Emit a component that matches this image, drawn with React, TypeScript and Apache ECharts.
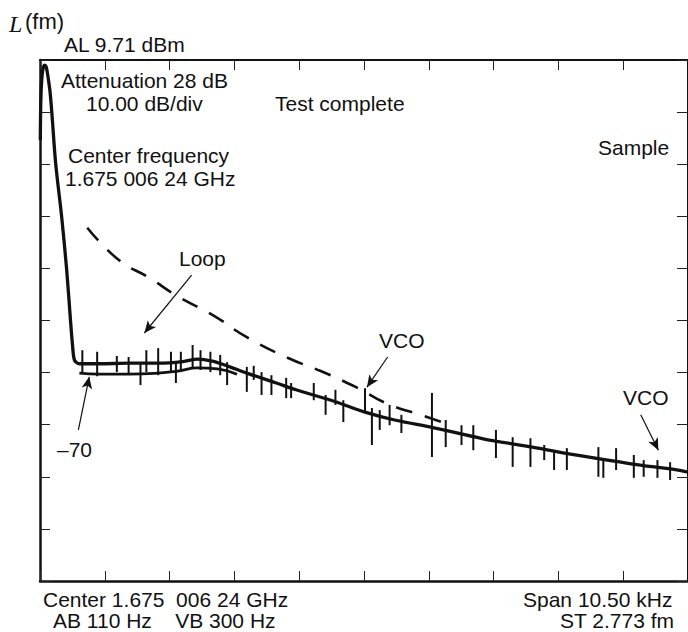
import React, { useEffect, useRef } from "react";
import * as echarts from "echarts";

// Frequency offset from left edge of screen (kHz), span 10.50 kHz over 10 div
const mainF = [0.005, 0.016, 0.040, 0.072, 0.096, 0.112, 0.160, 0.191, 0.255, 0.351, 0.431, 0.495, 0.527, 0.559, 0.638, 0.957, 1.436, 1.915, 2.314, 2.553, 2.793, 3.032, 3.351, 3.830, 4.149, 4.787, 5.266, 5.745, 6.383, 7.181, 7.979, 8.776, 9.574, 10.34, 10.5];
// Level relative to reference level (dB), 10 dB/div
const mainDb = [-15.4, -6.7, -2.3, -1.0, -1.2, -1.9, -5.8, -10.0, -20.0, -30.1, -40.1, -50.1, -54.7, -57.6, -58.3, -58.3, -58.2, -58.2, -57.9, -57.4, -57.8, -58.7, -60.1, -62.0, -63.3, -65.6, -67.6, -69.1, -70.6, -72.7, -74.3, -76.0, -77.5, -78.7, -79.1];

// lower envelope of the noise band near the floor
const lowerF = [0.638, 0.957, 1.436, 1.915, 2.234, 2.553, 2.873, 3.192];
const lowerDb = [-60.1, -60.3, -60.3, -60.1, -59.7, -59.1, -59.3, -60.3];

// dashed loop curve
const loopF = [0.766, 1.277, 1.755, 2.250, 2.793, 3.351, 4.021, 4.548, 5.122, 5.633, 6.159, 6.622];
const loopDb = [-32.2, -38.4, -41.7, -45.5, -48.9, -53.2, -57.2, -59.7, -62.8, -66.0, -68.1, -69.9];

// noise spikes: frequency, top level, bottom level
const spikeF = [0.686, 0.926, 1.245, 1.436, 1.628, 1.723, 1.915, 2.122, 2.202, 2.282, 2.473, 2.601, 2.761, 2.920, 3.032, 3.351, 3.463, 3.590, 3.750, 3.989, 4.069, 4.436, 4.628, 4.787, 4.915, 5.266, 5.378, 5.505, 5.665, 5.856, 6.351, 6.574, 6.830, 7.021, 7.388, 7.659, 7.947, 8.170, 8.330, 8.537, 9.048, 9.128, 9.335, 9.622, 9.782, 10.005, 10.21];
const spikeHi = [-55.7, -56.0, -56.8, -57.0, -58.0, -55.7, -55.3, -56.0, -58.0, -56.0, -54.7, -55.7, -56.0, -56.6, -58.0, -58.9, -58.7, -59.9, -60.5, -61.0, -62.0, -62.0, -64.3, -63.3, -65.3, -63.0, -66.8, -67.2, -66.2, -68.1, -63.9, -69.1, -70.1, -70.1, -71.0, -72.4, -72.6, -73.9, -74.9, -74.5, -74.3, -76.4, -74.5, -75.8, -76.8, -76.8, -77.2];
const spikeLo = [-60.2, -60.7, -59.9, -60.3, -62.4, -59.9, -60.5, -59.9, -62.0, -59.9, -59.1, -59.5, -59.9, -60.5, -62.4, -63.7, -61.4, -64.3, -64.3, -64.9, -64.9, -65.3, -68.1, -66.2, -69.5, -67.6, -73.9, -71.0, -70.1, -71.6, -76.2, -74.3, -73.9, -74.9, -76.4, -78.1, -78.1, -76.8, -78.7, -78.7, -80.0, -80.2, -78.7, -80.2, -80.0, -80.2, -80.6];

// annotation arrows (tail -> head) in data units
const arrowTail = [[2.457, -41.3], [5.633, -57.0], [9.734, -68.1], [0.622, -71.0]];
const arrowHead = [[1.691, -52.4], [5.298, -62.8], [10.02, -74.9], [0.798, -60.8]];

const SANS = "'Liberation Sans', Arial, Helvetica, sans-serif";
const SERIF = "'Liberation Serif', 'Times New Roman', serif";
const FS = 21;

function txt(text: string, x: number, y: number, size: number = FS, family: string = SANS, style: string = "normal") {
  return {
    type: "text",
    x,
    y,
    silent: true,
    style: {
      text,
      fontFamily: family,
      fontSize: size,
      fontStyle: style,
      fill: "#111",
      align: "left",
      verticalAlign: "middle",
    },
  };
}

export default function App() {
  const ref = useRef<HTMLDivElement>(null);
  useEffect(() => {
    if (!ref.current) return;
    const chart = echarts.init(ref.current, undefined, { renderer: "svg" });
    const zip = (a: number[], b: number[]) => a.map((v, i) => [v, b[i]]);
    const axisCommon = {
      type: "value",
      axisLabel: { show: false },
      splitLine: { show: false },
    };
    chart.setOption({
      animation: false,
      backgroundColor: "#fff",
      grid: { left: 40, top: 60, right: -10, bottom: 51, containLabel: false },
      xAxis: [
        {
          ...axisCommon,
          position: "bottom",
          min: 0,
          max: 10.5,
          interval: 1.05,
          axisLine: { show: true, onZero: false, lineStyle: { color: "#111", width: 2.5 } },
          axisTick: { show: true, inside: true, length: 10, lineStyle: { color: "#222", width: 1 } },
        },
        {
          ...axisCommon,
          position: "top",
          min: 0,
          max: 10.5,
          interval: 1.05,
          axisLine: { show: true, onZero: false, lineStyle: { color: "#111", width: 2 } },
          axisTick: { show: true, inside: true, length: 10, lineStyle: { color: "#222", width: 1 } },
        },
      ],
      yAxis: [
        {
          ...axisCommon,
          position: "left",
          min: -100,
          max: 0,
          interval: 10,
          axisLine: { show: true, onZero: false, lineStyle: { color: "#111", width: 2.5 } },
          axisTick: { show: true, inside: true, length: 10, lineStyle: { color: "#222", width: 1 } },
        },
        {
          ...axisCommon,
          position: "right",
          min: -100,
          max: 0,
          interval: 10,
          axisLine: { show: true, onZero: false, lineStyle: { color: "#111", width: 2 } },
          axisTick: { show: true, inside: true, length: 11, lineStyle: { color: "#222", width: 1 } },
        },
      ],
      series: [
        {
          type: "line",
          name: "Loop",
          data: zip(loopF, loopDb),
          smooth: true,
          showSymbol: false,
          lineStyle: { color: "#111", width: 2.6, type: [17, 13] },
          silent: true,
          markLine: {
            silent: true,
            symbol: ["none", "arrow"],
            symbolSize: [8, 12],
            label: { show: false },
            lineStyle: { color: "#111", width: 1.2, type: "solid" },
            data: arrowTail.map((t, i) => [{ coord: t }, { coord: arrowHead[i] }]),
          },
        },
        {
          type: "custom",
          name: "spikes",
          silent: true,
          data: spikeF.map((f, i) => [f, spikeHi[i], spikeLo[i]]),
          encode: { x: 0, y: [1, 2] },
          renderItem: (params: any, api: any) => {
            const a = api.coord([api.value(0), api.value(1)]);
            const b = api.coord([api.value(0), api.value(2)]);
            return {
              type: "line",
              shape: { x1: a[0], y1: a[1], x2: b[0], y2: b[1] },
              style: { stroke: "#111", lineWidth: 2 },
            };
          },
        },
        {
          type: "line",
          name: "floor",
          data: zip(lowerF, lowerDb),
          smooth: true,
          showSymbol: false,
          silent: true,
          lineStyle: { color: "#111", width: 2.8 },
        },
        {
          type: "line",
          name: "trace",
          data: zip(mainF, mainDb),
          smooth: 0.3,
          showSymbol: false,
          silent: true,
          lineStyle: { color: "#111", width: 3.3 },
        },
      ],
      graphic: [
        txt("L", 9, 24, 24, SERIF, "italic"),
        txt("(fm)", 25, 21, 22),
        txt("AL 9.71 dBm", 64, 44),
        txt("Attenuation 28 dB", 61, 80),
        txt("10.00 dB/div", 86, 103),
        txt("Test complete", 275, 103),
        txt("Center frequency", 68, 155),
        txt("1.675 006 24 GHz", 65, 178),
        txt("Sample", 598, 147),
        txt("Loop", 179, 258),
        txt("VCO", 379, 340),
        txt("VCO", 623, 397),
        txt("\u201370", 57, 449),
        txt("Center 1.675  006 24 GHz", 43, 599),
        txt("AB 110 Hz    VB 300 Hz", 53, 620),
        txt("Span 10.50 kHz", 523, 599),
        txt("ST 2.773 fm", 560, 620),
      ],
    });
    return () => chart.dispose();
  }, []);
  return (
    <div
      ref={ref}
      style={{ position: "absolute", left: 0, top: 0, width: 688, height: 632, overflow: "hidden", background: "#fff" }}
    />
  );
}
